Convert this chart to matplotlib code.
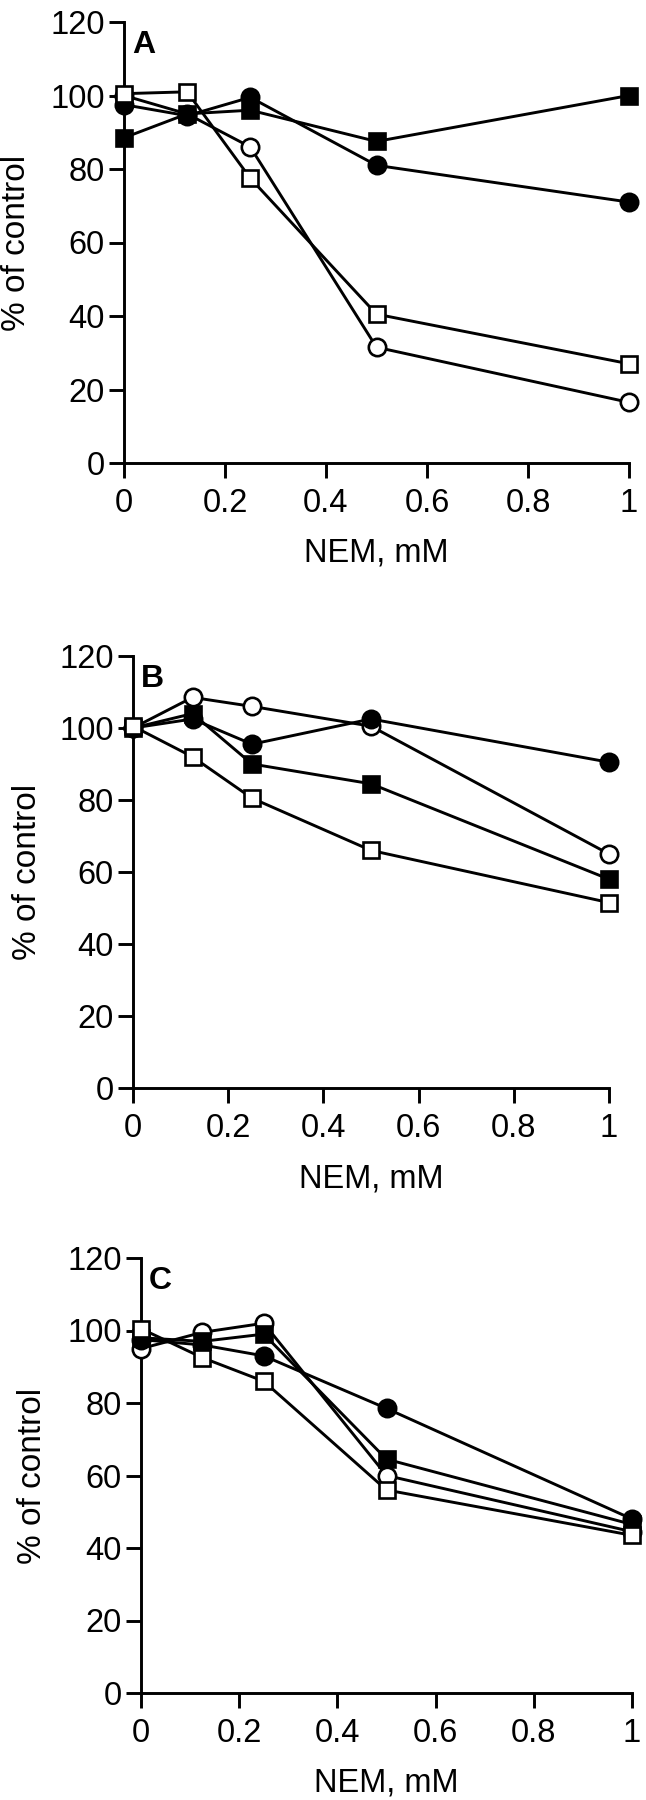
import matplotlib
matplotlib.use('Agg')
import matplotlib.pyplot as plt

# ---------------- data ----------------
nem = [0, 0.125, 0.25, 0.5, 1.0]

# Panel A
a_open_circle = [100, 95, 86, 31.5, 16.5]
a_filled_circle = [97.5, 94.5, 99.5, 81, 71]
a_filled_square = [88.5, 95, 96, 87.5, 100]
a_open_square = [100.5, 101, 77.5, 40.5, 27]

# Panel B
b_open_circle = [100, 108.5, 106, 100.5, 65]
b_filled_circle = [100, 102.5, 95.5, 102.5, 90.5]
b_filled_square = [100, 104, 90, 84.5, 58]
b_open_square = [100.5, 92, 80.5, 66, 51.5]

# Panel C
c_open_circle = [95, 99.5, 102, 60, 44.5]
c_filled_circle = [97.5, 96, 93, 78.5, 48]
c_filled_square = [98, 97, 99, 64.5, 46.5]
c_open_square = [100.5, 92.5, 86, 56, 43.5]

panel_letters = ['A', 'B', 'C']
x_ticks = [0, 0.2, 0.4, 0.6, 0.8, 1.0]
x_tick_labels = ['0', '0.2', '0.4', '0.6', '0.8', '1']
y_ticks = [0, 20, 40, 60, 80, 100, 120]
x_label = 'NEM, mM'
y_label = '% of control'

# ---------------- fonts ----------------
FONT = ['Liberation Sans', 'DejaVu Sans']
plt.rcParams['font.family'] = FONT

W, H = 646, 1800
fig = plt.figure(figsize=(W / 100, H / 100), dpi=100)
fig.patch.set_facecolor('white')

def fx(x):
    return x / W

def fy(y):
    return 1 - y / H

# pixel geometry of each panel: x0, x1, ytop(120), ybot(0)
geoms = [(124, 629, 22, 463), (133, 609, 656, 1088), (141, 632, 1258, 1693)]
ylabel_x = [17, 28, 33]

panels = [
    (a_open_circle, a_filled_circle, a_filled_square, a_open_square),
    (b_open_circle, b_filled_circle, b_filled_square, b_open_square),
    (c_open_circle, c_filled_circle, c_filled_square, c_open_square),
]

LW = 2.1
for i, (oc, fc, fsq, osq) in enumerate(panels):
    x0, x1, yt, yb = geoms[i]
    ax = fig.add_axes([fx(x0), fy(yb), (x1 - x0) / W, (yb - yt) / H])
    ax.set_xlim(0, 1)
    ax.set_ylim(0, 120)
    for s in ['top', 'right']:
        ax.spines[s].set_visible(False)
    for s in ['left', 'bottom']:
        ax.spines[s].set_linewidth(LW)
        ax.spines[s].set_color('black')

    common = dict(color='black', lw=LW, clip_on=False, mec='black', mew=1.9)
    ax.plot(nem, oc, marker='o', ms=12.5, mfc='white', zorder=3, **common)
    ax.plot(nem, fc, marker='o', ms=12.5, mfc='black', zorder=4, **common)
    ax.plot(nem, fsq, marker='s', ms=12, mfc='black', zorder=5, **common)
    ax.plot(nem, osq, marker='s', ms=12, mfc='white', zorder=6, **common)

    ax.set_xticks(x_ticks)
    ax.set_xticklabels(x_tick_labels)
    ax.set_yticks(y_ticks)
    ax.tick_params(axis='both', direction='out', length=11, width=LW,
                   labelsize=23.5, colors='black')
    ax.tick_params(axis='x', pad=7)
    ax.tick_params(axis='y', pad=3)

    # x label
    fig.text(fx((x0 + x1) / 2), fy(yb + 99), x_label, ha='center',
             va='baseline', fontsize=23.5, family=FONT)
    # y label
    fig.text(fx(ylabel_x[i]), fy((yt + yb) / 2), y_label, ha='center',
             va='center', rotation=90, fontsize=24, family=FONT)
    # panel letter
    fig.text(fx(x0 + 8), fy(yt + 8), panel_letters[i], ha='left', va='top',
             fontsize=23, fontweight='bold', family=FONT)

fig.savefig('out.png', dpi=100, facecolor='white')
